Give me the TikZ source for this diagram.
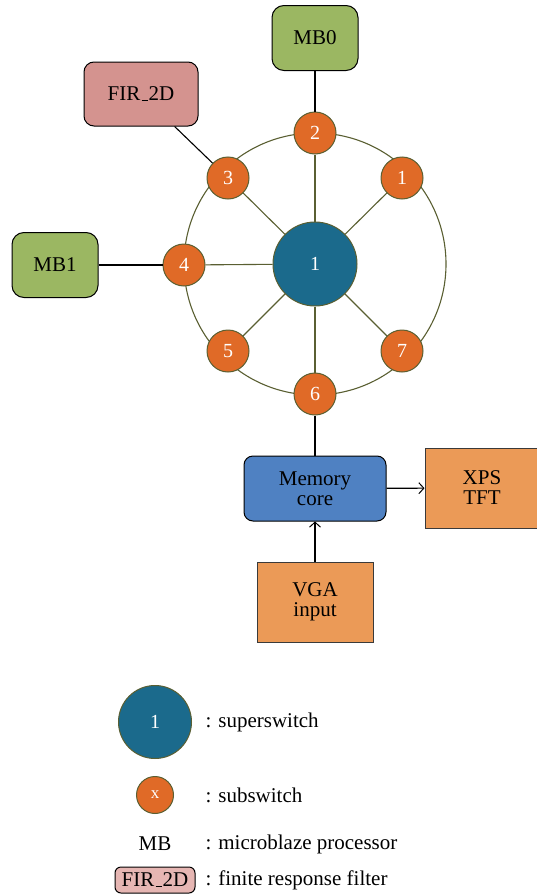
\documentclass[tikz,border=0pt]{standalone}
\usepackage{fontspec}
\setmainfont{Liberation Serif}
\usetikzlibrary{arrows.meta,calc}

% colours of the switch network
\definecolor{ringline}{HTML}{5A5F32}
\definecolor{superfill}{HTML}{1B6A8C}
\definecolor{subfill}{HTML}{E06A27}
\definecolor{mbfill}{HTML}{9BB762}
\definecolor{firfill}{HTML}{D4938F}
\definecolor{firlight}{HTML}{E6B6B3}
\definecolor{memfill}{HTML}{4F81C2}
\definecolor{iofill}{HTML}{EB9A57}
\definecolor{ioline}{HTML}{3A3A3A}

% low underscore bar as in FIR_2D
\newcommand{\lowbar}{\kern.06em\vbox{\hrule height 1.4pt width.32em}\kern.02em}

\tikzset{
  txt/.style={font=\fontsize{21}{23}\selectfont, text=black},
  superswitch/.style={circle, fill=superfill, draw=ringline, line width=1pt,
    minimum size=84pt, inner sep=0pt, text=white, font=\fontsize{20}{22}\selectfont},
  subswitch/.style={circle, fill=subfill, draw=ringline, line width=1pt,
    minimum size=42pt, inner sep=0pt, text=white, font=\fontsize{20}{22}\selectfont},
  mbbox/.style={txt, rounded corners=12pt, fill=mbfill, draw=black, line width=1pt,
    minimum width=86pt, minimum height=65pt},
  firbox/.style={txt, rounded corners=10pt, fill=firfill, draw=black, line width=1pt,
    minimum width=114pt, minimum height=64pt},
  membox/.style={txt, rounded corners=9pt, fill=memfill, draw=black, line width=1pt,
    minimum width=142pt, minimum height=65pt, align=center, text depth=0pt},
  iobox/.style={txt, fill=iofill, draw=ioline, line width=1pt, align=center},
  spoke/.style={draw=ringline, line width=1.1pt},
  link/.style={draw=black, line width=1.1pt},
  flow/.style={link, -{Straight Barb[length=5pt, width=11pt, line width=1pt]}},
}

\begin{document}
\begin{tikzpicture}[x=1pt, y=-1pt]
\useasboundingbox (0,0) rectangle (536,894);

% ring of subswitches around the superswitch
\coordinate (hub) at (315,264);
\draw[spoke] (hub) circle[radius=131pt];

\node[superswitch] (sw) at (hub) {1};
\node[subswitch] (s2) at (315,133) {2};
\node[subswitch] (s6) at (315,394) {6};
\node[subswitch] (s4) at (184,265) {4};
\node[subswitch] (s3) at ($(hub)+(-87,-86)$) {3};
\node[subswitch] (s1) at ($(hub)+(87,-86)$) {1};
\node[subswitch] (s5) at ($(hub)+(-87,87)$) {5};
\node[subswitch] (s7) at ($(hub)+(87,87)$) {7};

\foreach \s in {s1,s2,s3,s4,s5,s6,s7}
  \draw[spoke] (sw) -- (\s);

% attached processing units
\node[mbbox] (mb0) at (315,38) {MB0};
\node[mbbox] (mb1) at (55,265) {MB1};
\node[firbox] (fir) at (141,94) {FIR\lowbar 2D};

\draw[link] (mb0) -- (s2);
\draw[link] (mb1) -- (s4);
\draw[link] (fir) -- (s3);

% memory path
\node[membox] (mem) at (315,488.5) {Memory\\[-3pt]core};
\node[iobox, minimum width=114pt, minimum height=80pt] (xps) at (482,488) {XPS\\[-3pt]TFT};
\node[iobox, minimum width=116pt, minimum height=80pt] (vga) at (315,602) {VGA\\[-3pt]input};

\draw[link] (s6) -- (mem);
\draw[flow] (mem) -- (xps);
\draw[flow] (vga) -- (mem);

% legend
\node[superswitch, minimum size=73pt] (lgsuper) at (155,722) {1};
\node[txt, anchor=west] (lgsupertxt) at (202,722) {: superswitch};
\node[subswitch, minimum size=37pt, font=\fontsize{17}{19}\selectfont] (lgsub) at (155,795) {x};
\node[txt, anchor=west] (lgsubtxt) at (202,795) {: subswitch};
\node[txt] (lgmb) at (155,844) {MB};
\node[txt, anchor=west] (lgmbtxt) at (202,844) {: microblaze processor};
\node[txt, rounded corners=6pt, fill=firlight, draw=black, line width=1pt,
  minimum width=80pt, minimum height=26pt, inner sep=2pt] (lgfir) at (155,880) {FIR\lowbar 2D};
\node[txt, anchor=west] (lgfirtxt) at (202,880) {: finite response filter};
\end{tikzpicture}
\end{document}
